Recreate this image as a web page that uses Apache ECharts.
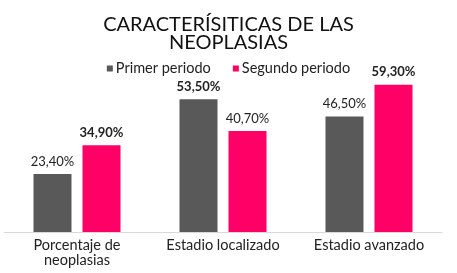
<!DOCTYPE html>
<html>
<head>
<meta charset="utf-8">
<script src="https://cdn.jsdelivr.net/npm/echarts@6/dist/echarts.min.js"></script>
<style>
  html, body { margin: 0; padding: 0; background: #fff; }
  #chart { width: 457px; height: 273px; }
</style>
</head>
<body>
<div id="chart"></div>
<script>
// datos
var categorias = ['Porcentaje de\nneoplasias', 'Estadio localizado', 'Estadio avanzado'];
var primerPeriodo = [23.4, 53.5, 46.5];
var segundoPeriodo = [34.9, 40.7, 59.3];
var nombresSeries = ['Primer periodo', 'Segundo periodo'];

var fuente = 'Lato';

function etiqueta(valores, otros) {
    // la mayor de cada par va en negrita
    return valores.map(function (v, i) {
        return {
            value: v,
            label: { fontWeight: v > otros[i] ? 'bold' : 'normal' }
        };
    });
}

function formato(p) {
    return p.value.toFixed(2).replace('.', ',') + '%';
}

var dom = document.getElementById('chart');
var chart = echarts.init(dom);

var option = {
    backgroundColor: '#fff',
    animation: false,
    title: {
        text: 'CARACTERÍSITICAS DE LAS\nNEOPLASIAS',
        left: 'center',
        top: 11,
        textStyle: {
            fontFamily: fuente,
            fontSize: 20,
            fontWeight: 'normal',
            color: '#111',
            lineHeight: 18
        }
    },
    legend: {
        top: 56,
        left: 'center',
        itemWidth: 6,
        itemHeight: 6,
        itemGap: 22,
        icon: 'rect',
        textStyle: {
            fontFamily: fuente,
            fontSize: 14.5,
            color: '#222',
            padding: [0, 0, 0, -2]
        },
        data: nombresSeries
    },
    grid: {
        left: 4,
        right: 15,
        top: 83,
        bottom: 41,
        containLabel: false
    },
    xAxis: {
        type: 'category',
        data: categorias,
        axisTick: { show: false },
        axisLine: { lineStyle: { color: '#d9d9d9' } },
        axisLabel: {
            interval: 0,
            hideOverlap: false,
            fontFamily: fuente,
            fontSize: 14.5,
            color: '#222',
            lineHeight: 15,
            margin: 6
        }
    },
    yAxis: {
        type: 'value',
        min: 0,
        max: 60,
        show: false,
        splitLine: { show: false }
    },
    series: [
        {
            name: nombresSeries[0],
            type: 'bar',
            data: etiqueta(primerPeriodo, segundoPeriodo),
            barWidth: 38,
            barGap: '29%',
            itemStyle: { color: '#595959' },
            label: {
                show: true,
                position: 'top',
                distance: 6,
                fontFamily: fuente,
                fontSize: 13,
                color: '#222',
                formatter: formato
            }
        },
        {
            name: nombresSeries[1],
            type: 'bar',
            data: etiqueta(segundoPeriodo, primerPeriodo),
            barWidth: 38,
            itemStyle: { color: '#ff0066' },
            label: {
                show: true,
                position: 'top',
                distance: 6,
                fontFamily: fuente,
                fontSize: 13,
                color: '#222',
                formatter: formato
            }
        }
    ]
};

chart.setOption(option);
window.addEventListener('resize', function () {
    chart.resize();
});
</script>
</body>
</html>
